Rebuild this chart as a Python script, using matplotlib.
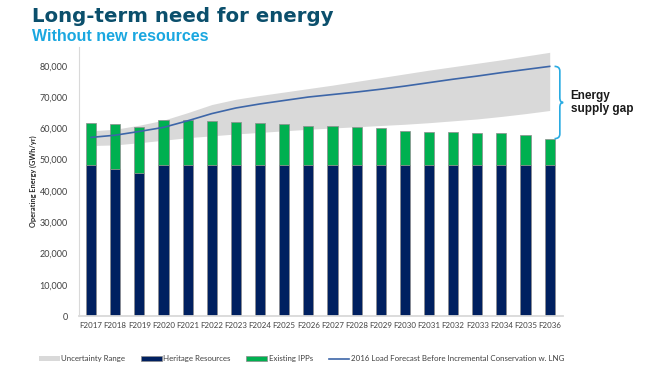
import matplotlib
matplotlib.use("Agg")
import matplotlib.pyplot as plt
from matplotlib.path import Path
from matplotlib.patches import PathPatch
import numpy as np

# fiscal years
years = ["F2017", "F2018", "F2019", "F2020", "F2021", "F2022", "F2023", "F2024", "F2025", "F2026",
         "F2027", "F2028", "F2029", "F2030", "F2031", "F2032", "F2033", "F2034", "F2035", "F2036"]

# supply (GWh/yr)
heritage = [48300, 47000, 45800, 48300, 48300, 48300, 48300, 48300, 48300, 48300,
            48300, 48300, 48300, 48300, 48300, 48300, 48300, 48300, 48300, 48300]
ipps = [13400, 14500, 14500, 14500, 14300, 14000, 13800, 13400, 13000, 12600,
        12600, 12200, 11700, 11000, 10500, 10400, 10300, 10100, 9600, 8400]

# demand forecast and uncertainty range
load = [57100, 57800, 59000, 60300, 62400, 64700, 66500, 67800, 68900, 70000,
        70800, 71600, 72500, 73500, 74600, 75700, 76700, 77800, 78800, 79800]
upper = [59200, 59700, 61000, 62600, 65000, 67600, 69300, 70500, 71600, 72700,
         73800, 75000, 76200, 77400, 78600, 79700, 80800, 81900, 83100, 84300]
lower = [54500, 54700, 55400, 56200, 57000, 57600, 58200, 58700, 59200, 59700,
         60100, 60500, 60900, 61300, 61800, 62400, 63000, 63800, 64700, 65700]

navy = "#002060"
green = "#00B050"
band = "#D9D9D9"
line_col = "#3D66A8"
brace_col = "#29ABE2"
txt = "#404040"

plt.rcParams["font.family"] = ["Liberation Sans", "DejaVu Sans"]

fig = plt.figure(figsize=(6.6, 3.72), dpi=100)
ax = fig.add_axes([0.1197, 0.1505, 0.7333, 0.7232])

x = np.arange(len(years))
h_band = ax.fill_between(x, lower, upper, color=band, linewidth=0, zorder=1, label="Uncertainty Range")
h_her = ax.bar(x, heritage, width=0.42, color=navy, edgecolor="#8c8c8c", linewidth=0.5,
               zorder=2, label="Heritage Resources")
h_ipp = ax.bar(x, ipps, width=0.42, bottom=heritage, color=green, edgecolor="#8c8c8c", linewidth=0.5,
               zorder=2, label="Existing IPPs")
h_load, = ax.plot(x, load, color=line_col, linewidth=1.2, zorder=3,
                  label="2016 Load Forecast Before Incremental Conservation w. LNG")

ax.set_xlim(-0.5, 19.55)
ax.set_ylim(0, 86000)
ax.set_yticks(np.arange(0, 80001, 10000))
ax.set_yticklabels([f"{v:,}" for v in range(0, 80001, 10000)], fontfamily="Lato", fontsize=6.5, color=txt)
ax.set_xticks(x)
ax.set_xticklabels(years, fontfamily="Lato", fontsize=5.7, color=txt)
ax.tick_params(length=0, pad=4)
ax.tick_params(axis="y", pad=8)
for s in ["top", "right"]:
    ax.spines[s].set_visible(False)
ax.spines["left"].set_color(band)
ax.spines["bottom"].set_color(band)
ax.spines["bottom"].set_linewidth(1.3)
ax.set_ylabel("Operating Energy (GWh/yr)", fontsize=5.3, fontweight="bold", color="#262626",
              fontfamily="Lato", labelpad=2)

# brace for the supply gap
top = load[-1]
bot = heritage[-1] + ipps[-1]
mid = (top + bot) / 2
x0, x1, x2 = 19.2, 19.42, 19.56
r = 1500
verts = [(x0, top), (x1, top), (x1, top - r), (x1, mid + r), (x1, mid), (x2, mid),
         (x1, mid), (x1, mid - r), (x1, bot + r), (x1, bot), (x0, bot)]
codes = [Path.MOVETO, Path.CURVE3, Path.CURVE3, Path.LINETO, Path.CURVE3, Path.CURVE3,
         Path.CURVE3, Path.CURVE3, Path.LINETO, Path.CURVE3, Path.CURVE3]
ax.add_patch(PathPatch(Path(verts, codes), facecolor="none", edgecolor=brace_col,
                       linewidth=1.2, clip_on=False, zorder=4))
ax.text(19.87, mid, "Energy\nsupply gap", fontsize=8.5, fontweight="bold", color="#1a1a1a",
        ha="left", va="center", linespacing=1.05, clip_on=False)

fig.text(0.048, 0.955, "Long-term need for energy", fontsize=14.2, fontweight="bold",
         color="#0B4F6C", fontfamily="DejaVu Sans", va="center")
fig.text(0.048, 0.903, "Without new resources", fontsize=11.5, fontweight="bold",
         color="#1AA7E0", va="center")

leg = fig.legend([h_band, h_her, h_ipp, h_load],
                 [h.get_label() for h in [h_band, h_her, h_ipp, h_load]],
                 loc="center", bbox_to_anchor=(0.457, 0.035), ncol=4, frameon=False,
                 prop={"family": "Lato", "size": 5.7}, handlelength=2.6, handleheight=0.5,
                 handletextpad=0.2, columnspacing=2.0)
for t in leg.get_texts():
    t.set_color(txt)

fig.savefig("out.png", dpi=100)
